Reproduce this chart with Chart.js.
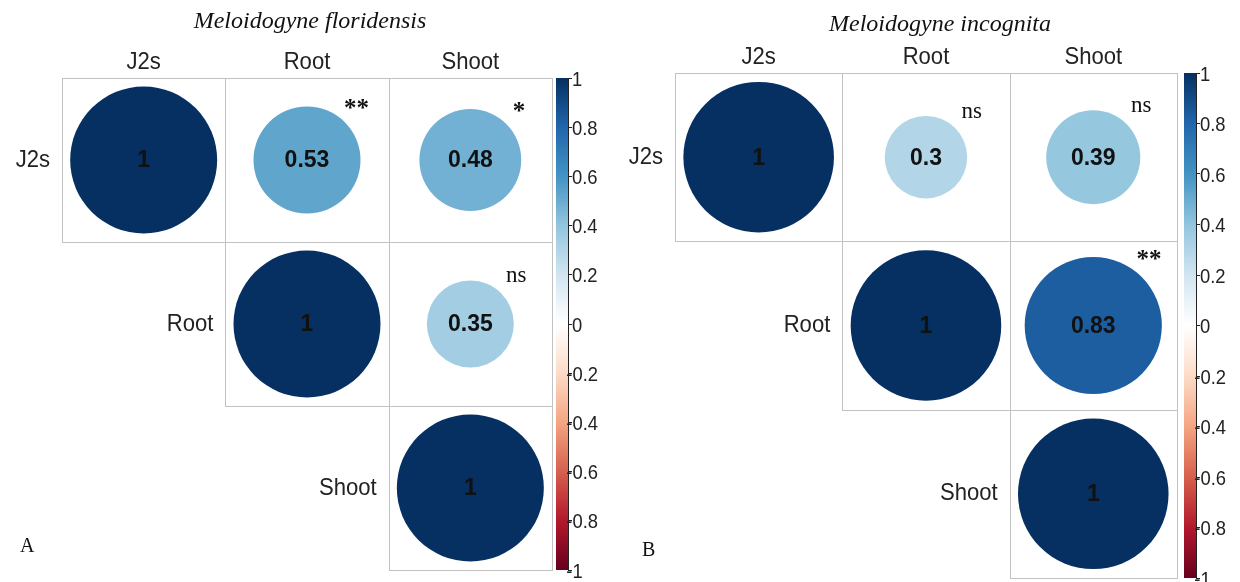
<!DOCTYPE html>
<html>
<head>
<meta charset="utf-8">
<script src="https://cdn.jsdelivr.net/npm/chart.js@4.4.1/dist/chart.umd.min.js"></script>
<style>
  html, body { margin: 0; padding: 0; background: #fff; }
  #wrap { position: relative; width: 1240px; height: 582px; overflow: hidden; }
  canvas { position: absolute; top: 0; }
  #panelA { left: 0; }
  #panelB { left: 620px; }
</style>
</head>
<body>
<div id="wrap">
  <canvas id="panelA" width="620" height="582"></canvas>
  <canvas id="panelB" width="620" height="582"></canvas>
</div>
<script>
// Variables compared in each correlation matrix
const variables = ['J2s', 'Root', 'Shoot'];

// Upper-triangle correlations, row by row (J2s-J2s, J2s-Root, J2s-Shoot, Root-Root, Root-Shoot, Shoot-Shoot)
const floridensisCorr = [1, 0.53, 0.48, 1, 0.35, 1];
const floridensisSig  = ['', '**', '*', '', 'ns', ''];

const incognitaCorr = [1, 0.3, 0.39, 1, 0.83, 1];
const incognitaSig  = ['', 'ns', 'ns', '', '**', ''];

// Colour-key tick values
const colorbarTicks = [-1, -0.8, -0.6, -0.4, -0.2, 0, 0.2, 0.4, 0.6, 0.8, 1];

// Diverging red-blue palette, from -1 to 1
const RDBU = ['#67001F', '#B2182B', '#D6604D', '#F4A582', '#FDDBC7', '#FFFFFF',
              '#D1E5F0', '#92C5DE', '#4393C3', '#2166AC', '#053061'];

function hexRgb(h) {
  return [parseInt(h.slice(1, 3), 16), parseInt(h.slice(3, 5), 16), parseInt(h.slice(5, 7), 16)];
}
function corrColor(v) {
  const t = Math.max(0, Math.min(1, (v + 1) / 2)) * (RDBU.length - 1);
  const i = Math.min(RDBU.length - 2, Math.floor(t));
  const f = t - i;
  const a = hexRgb(RDBU[i]), b = hexRgb(RDBU[i + 1]);
  const c = a.map((x, k) => Math.round(x + (b[k] - x) * f));
  return `rgb(${c[0]},${c[1]},${c[2]})`;
}

// Upper-triangle cells as scatter points: column -> x, row -> y
function cellsFrom(corr, sig) {
  const pts = [];
  let k = 0;
  for (let i = 0; i < variables.length; i++) {
    for (let j = i; j < variables.length; j++) {
      pts.push({ x: j + 1, y: i + 1, v: corr[k], sig: sig[k] });
      k++;
    }
  }
  return pts;
}

const SANS = '"Liberation Sans", Arial, sans-serif';
const SERIF = '"Liberation Serif", "Times New Roman", serif';

function cellSize(chart) {
  const xs = chart.scales.x, ys = chart.scales.y;
  return {
    w: xs.getPixelForValue(2) - xs.getPixelForValue(1),
    h: ys.getPixelForValue(2) - ys.getPixelForValue(1)
  };
}
function circleRadius(chart, v) {
  return 0.45 * cellSize(chart).w * Math.sqrt(Math.abs(v));
}

// Text drawn slightly narrowed horizontally
function condensedText(ctx, text, x, y, sx) {
  ctx.save();
  ctx.translate(x, y);
  ctx.scale(sx, 1);
  ctx.fillText(text, 0, 0);
  ctx.restore();
}

const corrDecor = {
  id: 'corrDecor',
  beforeDatasetsDraw(chart, args, o) {
    const ctx = chart.ctx, xs = chart.scales.x, ys = chart.scales.y, cb = chart.scales.cb;
    const area = chart.chartArea;
    ctx.save();
    // cell borders of the upper triangle
    ctx.strokeStyle = '#c2c2c2';
    ctx.lineWidth = 1;
    for (let i = 0; i < variables.length; i++) {
      for (let j = i; j < variables.length; j++) {
        const l = Math.round(xs.getPixelForValue(j + 0.5)) + 0.5;
        const r = Math.round(xs.getPixelForValue(j + 1.5)) + 0.5;
        const t = Math.round(ys.getPixelForValue(i + 0.5)) + 0.5;
        const b = Math.round(ys.getPixelForValue(i + 1.5)) + 0.5;
        ctx.strokeRect(l, t, r - l, b - t);
      }
    }
    // colour key
    const top = cb.getPixelForValue(1), bot = cb.getPixelForValue(-1);
    const grad = ctx.createLinearGradient(0, bot, 0, top);
    RDBU.forEach((c, k) => grad.addColorStop(k / (RDBU.length - 1), c));
    ctx.fillStyle = grad;
    ctx.fillRect(area.right - o.barWidth, top, o.barWidth, bot - top);
    ctx.restore();
  },
  afterDraw(chart, args, o) {
    const ctx = chart.ctx, xs = chart.scales.x, ys = chart.scales.y, cb = chart.scales.cb;
    const cell = cellSize(chart);
    const pts = chart.data.datasets[0].data;
    ctx.save();
    // correlation values and significance marks
    pts.forEach(p => {
      const cx = xs.getPixelForValue(p.x), cy = ys.getPixelForValue(p.y);
      ctx.fillStyle = '#111';
      ctx.font = `bold 23px ${SANS}`;
      ctx.textAlign = 'center';
      ctx.textBaseline = 'middle';
      ctx.fillText(String(p.v), cx, cy + 1);
      if (p.sig) {
        const r = circleRadius(chart, p.v);
        const sx = cx + 0.185 * cell.w + 0.36 * r;
        const sy = cy - (r + 0.02 * cell.h);
        ctx.textBaseline = 'alphabetic';
        const star = p.sig.indexOf('*') >= 0;
        ctx.font = star ? `bold 25px ${SERIF}` : `23px ${SERIF}`;
        ctx.fillStyle = '#111';
        ctx.fillText(p.sig, sx, sy + (star ? 13 : 5));
      }
    });
    // colour-key labels; the minus sign sits over the tick mark
    ctx.fillStyle = '#222';
    ctx.font = `20px ${SANS}`;
    ctx.textAlign = 'left';
    ctx.textBaseline = 'middle';
    const minusW = ctx.measureText('-').width;
    const lx = chart.chartArea.right + 4;
    colorbarTicks.forEach(v => {
      const label = String(Math.round(v * 10) / 10);
      const x = v < 0 ? lx - minusW + 1 : lx;
      condensedText(ctx, label, x, cb.getPixelForValue(v) + 2, 0.92);
    });
    // column headers
    ctx.fillStyle = '#222';
    ctx.font = `24px ${SANS}`;
    ctx.textAlign = 'center';
    ctx.textBaseline = 'middle';
    const gridTop = ys.getPixelForValue(0.5);
    variables.forEach((name, j) => {
      condensedText(ctx, name, xs.getPixelForValue(j + 1), gridTop - 16, 0.92);
    });
    // row labels beside the diagonal
    ctx.textAlign = 'right';
    variables.forEach((name, i) => {
      condensedText(ctx, name, xs.getPixelForValue(i + 0.5) - 12, ys.getPixelForValue(i + 1), 0.92);
    });
    // panel title
    ctx.fillStyle = '#111';
    ctx.font = `italic 24px ${SERIF}`;
    ctx.textAlign = 'center';
    ctx.fillText(o.title, o.titleX, o.titleY);
    // panel letter
    ctx.font = `20px ${SERIF}`;
    ctx.textAlign = 'left';
    ctx.fillText(o.letter, o.letterX, o.letterY);
    ctx.restore();
  }
};

function makePanel(id, corr, sig, layout) {
  const pts = cellsFrom(corr, sig);
  return new Chart(document.getElementById(id), {
    type: 'scatter',
    data: {
      datasets: [{
        data: pts,
        xAxisID: 'x',
        yAxisID: 'y',
        pointStyle: 'circle',
        borderWidth: 0,
        pointRadius: c => circleRadius(c.chart, c.raw.v),
        pointHoverRadius: c => circleRadius(c.chart, c.raw.v),
        backgroundColor: c => corrColor(c.raw.v),
        hoverBackgroundColor: c => corrColor(c.raw.v)
      }]
    },
    options: {
      responsive: false,
      animation: false,
      devicePixelRatio: 1,
      events: [],
      layout: { padding: { left: layout.left, top: layout.top, right: 0, bottom: layout.bottom } },
      plugins: {
        legend: { display: false },
        tooltip: { enabled: false },
        corrDecor: {
          title: layout.title, titleX: layout.titleX, titleY: layout.titleY,
          letter: layout.letter, letterX: layout.letterX, letterY: layout.letterY,
          barWidth: 12
        }
      },
      scales: {
        x: { type: 'linear', min: 0.5, max: 3.5 + layout.xExtra, display: false },
        y: { type: 'linear', min: 0.5, max: 3.5, reverse: true, display: false },
        cb: {
          type: 'linear', axis: 'y', position: 'right', min: -1, max: 1,
          afterBuildTicks: s => { s.ticks = colorbarTicks.map(v => ({ value: v })); },
          afterFit: s => { s.width = layout.cbWidth; },
          grid: { drawOnChartArea: false, drawTicks: true, tickLength: 4, tickColor: '#222', color: '#222' },
          border: { display: true, color: '#222', width: 1 },
          ticks: { display: false }
        }
      }
    },
    plugins: [corrDecor]
  });
}

makePanel('panelA', floridensisCorr, floridensisSig, {
  left: 62, top: 78, bottom: 12, cbWidth: 52, xExtra: 0.098,
  title: 'Meloidogyne floridensis', titleX: 310, titleY: 22,
  letter: 'A', letterX: 20, letterY: 547
});

makePanel('panelB', incognitaCorr, incognitaSig, {
  left: 55, top: 73, bottom: 4, cbWidth: 44, xExtra: 0.114,
  title: 'Meloidogyne incognita', titleX: 320, titleY: 25,
  letter: 'B', letterX: 22, letterY: 551
});
</script>
</body>
</html>
